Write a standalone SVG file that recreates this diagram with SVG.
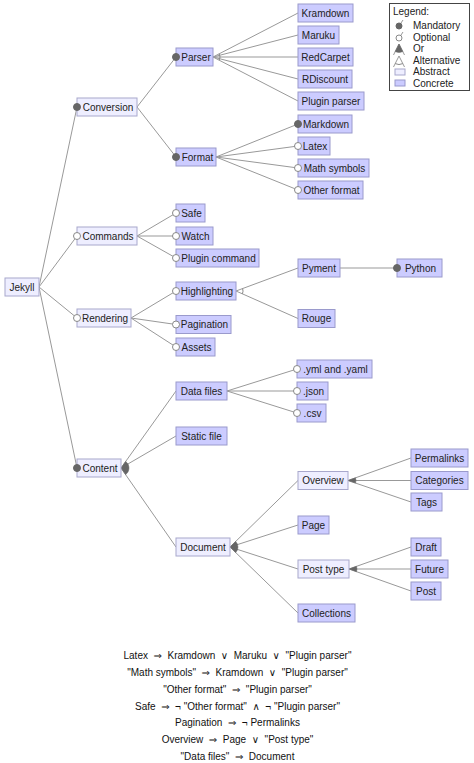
<svg xmlns="http://www.w3.org/2000/svg" width="474" height="763" viewBox="0 0 474 763">
<style>
text{font-family:"Liberation Sans",Arial,"DejaVu Sans",sans-serif;font-size:10px;fill:#222}
.lbl{text-anchor:middle}
.abs{fill:#eeeeff;stroke:#a8a8cc;stroke-width:1}
.con{fill:#ccccff;stroke:#9a9acc;stroke-width:1}
.e{stroke:#999;stroke-width:1;fill:none}
.m{fill:#666;stroke:#666;stroke-width:1}
.o{fill:#fff;stroke:#888;stroke-width:1}
.or{fill:#666;stroke:#666;stroke-width:0.5}
.alt{fill:none;stroke:#888;stroke-width:1}
.cst{text-anchor:middle;white-space:pre;fill:#111}
</style>
<rect width="474" height="763" fill="#fff"/>
<g id="connectors">
<path class="e" d="M39,287L77,107M39,287L77,236M39,287L77,318M39,287L77,468"/>
<path class="e" d="M137,107L176,57M137,107L176,157"/>
<path class="e" d="M213,57L298,13M213,57L298,35M213,57L298,57M213,57L298,79M213,57L298,101"/>
<path class="e" d="M216,157L298,124M216,157L298,146M216,157L298,168M216,157L298,190"/>
<path class="e" d="M137,236L176,213M137,236L176,236M137,236L176,258"/>
<path class="e" d="M131,318L176,291M131,318L176,324.5M131,318L176,347"/>
<path class="e" d="M236,291L298,268M236,291L298,318.5M340,268L397,268"/>
<path class="e" d="M121,468L176,391M121,468L176,436M121,468L176,547"/>
<path class="e" d="M227,391L297,369M227,391L297,391M227,391L297,413"/>
<path class="e" d="M230,547L298,480.5M230,547L298,525M230,547L298,569M230,547L298,613"/>
<path class="e" d="M348,480.5L411,458M348,480.5L411,480.5M348,480.5L411,502"/>
<path class="e" d="M349,569L411,547M349,569L411,569M349,569L411,591"/>
<path class="alt" d="M219.2,53.8A7,7 0 0 1 219.2,60.2"/>
<path class="alt" d="M242.6,288.6A7,7 0 0 1 242.4,293.8"/>
<path class="or" d="M121,468L125.6,461.5A8,8 0 0 1 125.6,474.6Z"/>
<path class="or" d="M230,547L235.7,541.4A8,8 0 0 1 235.7,552.6Z"/>
<path class="or" d="M348,480.5L355.5,477.8A8,8 0 0 1 355.6,483.1Z"/>
<path class="or" d="M349,569L356.5,566.3A8,8 0 0 1 356.5,571.7Z"/>
</g>
<g id="n-jekyll"><rect class="abs" x="5" y="278" width="34" height="18"/><text class="lbl" x="22" y="290.5">Jekyll</text></g>
<g id="n-conversion"><rect class="abs" x="77" y="98" width="60" height="18"/><text class="lbl" x="108" y="110.5">Conversion</text><circle class="m" cx="77" cy="107" r="3.5"/></g>
<g id="n-commands"><rect class="abs" x="77" y="227" width="60" height="18"/><text class="lbl" x="108" y="239.5">Commands</text><circle class="o" cx="77" cy="236" r="3.5"/></g>
<g id="n-rendering"><rect class="abs" x="77" y="309" width="54" height="18"/><text class="lbl" x="105" y="321.5">Rendering</text><circle class="o" cx="77" cy="318" r="3.5"/></g>
<g id="n-content"><rect class="abs" x="77" y="459" width="44" height="18"/><text class="lbl" x="100" y="471.5">Content</text><circle class="m" cx="77" cy="468" r="3.5"/></g>
<g id="n-parser"><rect class="con" x="176" y="48" width="37" height="18"/><text class="lbl" x="196" y="60.5">Parser</text><circle class="m" cx="176" cy="57" r="3.5"/></g>
<g id="n-format"><rect class="con" x="176" y="148" width="40" height="18"/><text class="lbl" x="197.5" y="160.5">Format</text><circle class="m" cx="176" cy="157" r="3.5"/></g>
<g id="n-kramdown"><rect class="con" x="298" y="4" width="55" height="18"/><text class="lbl" x="325.5" y="16.5">Kramdown</text></g>
<g id="n-maruku"><rect class="con" x="298" y="26" width="41" height="18"/><text class="lbl" x="318.5" y="38.5">Maruku</text></g>
<g id="n-redcarpet"><rect class="con" x="298" y="48" width="55" height="18"/><text class="lbl" x="325.5" y="60.5">RedCarpet</text></g>
<g id="n-rdiscount"><rect class="con" x="298" y="70" width="54" height="18"/><text class="lbl" x="325" y="82.5">RDiscount</text></g>
<g id="n-pluginparser"><rect class="con" x="298" y="92" width="66" height="18"/><text class="lbl" x="331" y="104.5">Plugin parser</text></g>
<g id="n-markdown"><rect class="con" x="298" y="115" width="54" height="18"/><text class="lbl" x="326" y="127.5">Markdown</text><circle class="m" cx="298" cy="124" r="3.5"/></g>
<g id="n-latex"><rect class="con" x="298" y="137" width="32" height="18"/><text class="lbl" x="315" y="149.5">Latex</text><circle class="o" cx="298" cy="146" r="3.5"/></g>
<g id="n-mathsymbols"><rect class="con" x="298" y="159" width="71" height="18"/><text class="lbl" x="334.5" y="171.5">Math symbols</text><circle class="o" cx="298" cy="168" r="3.5"/></g>
<g id="n-otherformat"><rect class="con" x="298" y="181" width="65" height="18"/><text class="lbl" x="331.5" y="193.5">Other format</text><circle class="o" cx="298" cy="190" r="3.5"/></g>
<g id="n-safe"><rect class="con" x="176" y="204" width="29" height="18"/><text class="lbl" x="191.5" y="216.5">Safe</text><circle class="o" cx="176" cy="213" r="3.5"/></g>
<g id="n-watch"><rect class="con" x="176" y="227" width="37" height="18"/><text class="lbl" x="195.5" y="239.5">Watch</text><circle class="o" cx="176" cy="236" r="3.5"/></g>
<g id="n-plugincommand"><rect class="con" x="176" y="249" width="83" height="18"/><text class="lbl" x="218.5" y="261.5">Plugin command</text><circle class="o" cx="176" cy="258" r="3.5"/></g>
<g id="n-highlighting"><rect class="con" x="176" y="282" width="60" height="18"/><text class="lbl" x="207" y="294.5">Highlighting</text><circle class="o" cx="176" cy="291" r="3.5"/></g>
<g id="n-pagination"><rect class="con" x="176" y="315.5" width="55" height="18"/><text class="lbl" x="204.5" y="328">Pagination</text><circle class="o" cx="176" cy="324.5" r="3.5"/></g>
<g id="n-assets"><rect class="con" x="176" y="338" width="39" height="18"/><text class="lbl" x="196.5" y="350.5">Assets</text><circle class="o" cx="176" cy="347" r="3.5"/></g>
<g id="n-pyment"><rect class="con" x="298" y="259" width="42" height="18"/><text class="lbl" x="319" y="271.5">Pyment</text></g>
<g id="n-python"><rect class="con" x="397" y="259" width="45" height="18"/><text class="lbl" x="420.5" y="271.5">Python</text><circle class="m" cx="397" cy="268" r="3.5"/></g>
<g id="n-rouge"><rect class="con" x="298" y="309.5" width="37" height="18"/><text class="lbl" x="316.5" y="322">Rouge</text></g>
<g id="n-datafiles"><rect class="con" x="176" y="382" width="51" height="18"/><text class="lbl" x="201.5" y="394.5">Data files</text></g>
<g id="n-staticfile"><rect class="con" x="176" y="427" width="51" height="18"/><text class="lbl" x="201.5" y="439.5">Static file</text></g>
<g id="n-document"><rect class="abs" x="176" y="538" width="54" height="18"/><text class="lbl" x="203" y="550.5">Document</text></g>
<g id="n-yml"><rect class="con" x="297" y="360" width="75" height="18"/><text class="lbl" x="335.5" y="372.5">.yml and .yaml</text><circle class="o" cx="297" cy="369" r="3.5"/></g>
<g id="n-json"><rect class="con" x="297" y="382" width="31" height="18"/><text class="lbl" x="313.5" y="394.5">.json</text><circle class="o" cx="297" cy="391" r="3.5"/></g>
<g id="n-csv"><rect class="con" x="297" y="404" width="29" height="18"/><text class="lbl" x="312.5" y="416.5">.csv</text><circle class="o" cx="297" cy="413" r="3.5"/></g>
<g id="n-overview"><rect class="abs" x="298" y="471.5" width="50" height="18"/><text class="lbl" x="323" y="484">Overview</text></g>
<g id="n-page"><rect class="con" x="298" y="516" width="31" height="18"/><text class="lbl" x="313.5" y="528.5">Page</text></g>
<g id="n-posttype"><rect class="abs" x="298" y="560" width="51" height="18"/><text class="lbl" x="323.5" y="572.5">Post type</text></g>
<g id="n-collections"><rect class="con" x="298" y="604" width="57" height="18"/><text class="lbl" x="326.5" y="616.5">Collections</text></g>
<g id="n-permalinks"><rect class="con" x="411" y="449" width="57" height="18"/><text class="lbl" x="439.5" y="461.5">Permalinks</text></g>
<g id="n-categories"><rect class="con" x="411" y="471.5" width="57" height="18"/><text class="lbl" x="439.5" y="484">Categories</text></g>
<g id="n-tags"><rect class="con" x="411" y="493" width="31" height="18"/><text class="lbl" x="426.5" y="505.5">Tags</text></g>
<g id="n-draft"><rect class="con" x="411" y="538" width="30" height="18"/><text class="lbl" x="426" y="550.5">Draft</text></g>
<g id="n-future"><rect class="con" x="411" y="560" width="37" height="18"/><text class="lbl" x="429.5" y="572.5">Future</text></g>
<g id="n-post"><rect class="con" x="411" y="582" width="30" height="18"/><text class="lbl" x="426" y="594.5">Post</text></g>
<g id="legend">
<rect x="389.5" y="3.5" width="80" height="87" fill="#fff" stroke="#444" stroke-width="1"/>
<text x="393" y="15">Legend:</text>
<line class="e" x1="399" y1="26" x2="403" y2="20"/><circle class="m" cx="399" cy="26" r="3"/><text x="413" y="29">Mandatory</text>
<line class="e" x1="399" y1="38" x2="403" y2="32"/><circle class="o" cx="399" cy="38" r="3"/><text x="413" y="40.5">Optional</text>
<path class="e" d="M399,44L393.5,55M399,44L404.5,55"/><path class="or" d="M399,44L395.2,51.6A8.5,8.5 0 0 0 402.8,51.6Z"/><text x="413" y="52">Or</text>
<path class="e" d="M399,56L393.5,67M399,56L404.5,67"/><path class="alt" d="M395.2,63.6A8.5,8.5 0 0 0 402.8,63.6"/><text x="413" y="63.5">Alternative</text>
<rect class="abs" x="395" y="69" width="10" height="6"/><text x="413" y="75">Abstract</text>
<rect class="con" x="395" y="80" width="10" height="6"/><text x="413" y="86.5">Concrete</text>
</g>
<g id="constraints">
<text class="cst" x="237.5" y="659">Latex  ⇒  Kramdown  ∨  Maruku  ∨  "Plugin parser"</text>
<text class="cst" x="237.5" y="676">"Math symbols"  ⇒  Kramdown  ∨  "Plugin parser"</text>
<text class="cst" x="237.5" y="693">"Other format"  ⇒  "Plugin parser"</text>
<text class="cst" x="237.5" y="709.5">Safe  ⇒  ¬ "Other format"  ∧  ¬ "Plugin parser"</text>
<text class="cst" x="237.5" y="726">Pagination  ⇒  ¬ Permalinks</text>
<text class="cst" x="237.5" y="743">Overview  ⇒  Page  ∨  "Post type"</text>
<text class="cst" x="237.5" y="760">"Data files"  ⇒  Document</text>
</g>
</svg>
